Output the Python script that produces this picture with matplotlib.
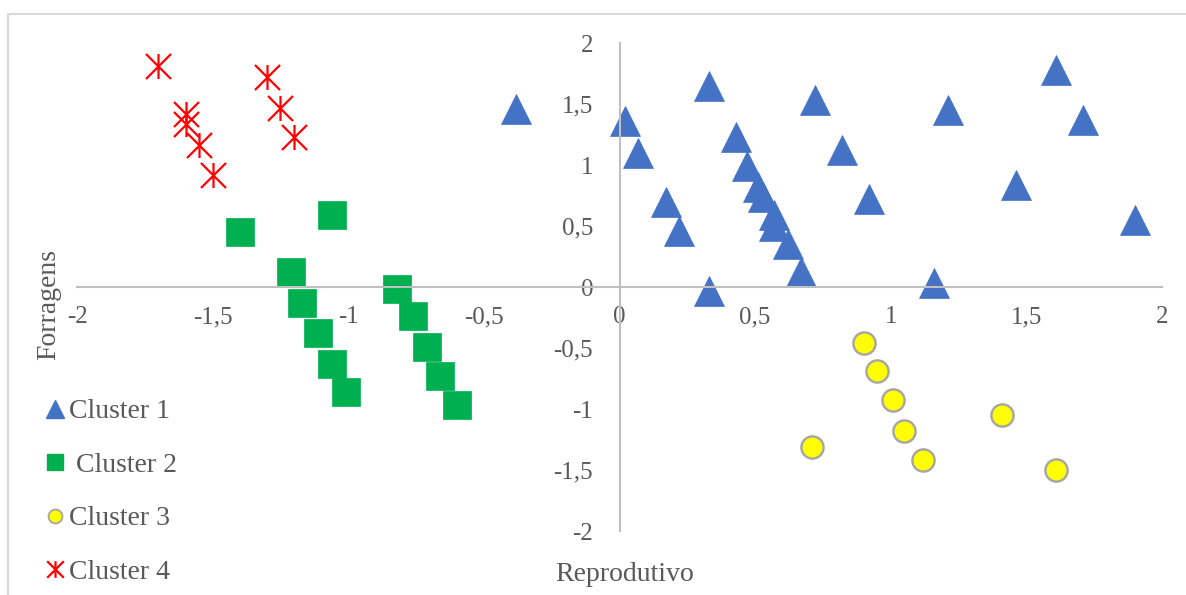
import numpy as np
import matplotlib.pyplot as plt
from matplotlib.path import Path
from matplotlib.lines import Line2D
from matplotlib.patches import Rectangle

plt.rcParams['font.family'] = ['Liberation Serif', 'DejaVu Serif']

# ------------------------------
# Data
# ------------------------------
x_c1 = [-0.38, 0.02, 0.07, 0.33, 0.43, 0.17, 0.22, 0.33, 0.47, 0.51, 0.53, 0.57,
        0.57, 0.62, 0.67, 0.72, 0.82, 0.92, 1.21, 1.61, 1.71, 1.46, 1.90, 1.16]
y_c1 = [1.46, 1.36, 1.10, 1.65, 1.23, 0.70, 0.46, -0.03, 0.99, 0.82, 0.74, 0.59,
        0.50, 0.35, 0.12, 1.53, 1.12, 0.72, 1.45, 1.78, 1.37, 0.84, 0.55, 0.03]

x_c2 = [-1.40, -1.06, -1.21, -1.17, -1.11, -1.06, -1.01, -0.82, -0.76, -0.71, -0.66, -0.60]
y_c2 = [0.45, 0.59, 0.12, -0.13, -0.38, -0.63, -0.86, -0.02, -0.24, -0.49, -0.73, -0.97]

x_c3 = [0.90, 0.95, 1.01, 1.05, 1.12, 0.71, 1.41, 1.61]
y_c3 = [-0.46, -0.69, -0.93, -1.18, -1.42, -1.31, -1.05, -1.50]

x_c4 = [-1.70, -1.30, -1.25, -1.60, -1.60, -1.55, -1.20, -1.50]
y_c4 = [1.81, 1.72, 1.47, 1.42, 1.34, 1.16, 1.23, 0.92]

labels = ['Cluster 1', ' Cluster 2', 'Cluster 3', 'Cluster 4']
ticks = [-2, -1.5, -1, -0.5, 0, 0.5, 1, 1.5, 2]
tick_labels = ['-2', '-1,5', '-1', '-0,5', '0', '0,5', '1', '1,5', '2']

# Excel-style asterisk: vertical bar + X
star = Path([(0, -1), (0, 1), (-1, -1), (1, 1), (-1, 1), (1, -1)],
            [Path.MOVETO, Path.LINETO, Path.MOVETO, Path.LINETO, Path.MOVETO, Path.LINETO])

blue, green, yellow, red = '#4472C4', '#00B050', '#FFFF00', '#FF0000'
txt = '#595959'

# ------------------------------
# Figure
# ------------------------------
fig = plt.figure(figsize=(11.86, 5.95), dpi=100)
ax = fig.add_axes([77 / 1186, 64 / 595, 1085 / 1186, 488 / 595])

ax.plot(x_c1, y_c1, ls='none', marker='^', ms=21, mfc=blue, mec=blue, mew=0.5)
ax.plot(x_c2, y_c2, ls='none', marker='s', ms=19.5, mfc=green, mec=green, mew=0.5)
ax.plot(x_c3, y_c3, ls='none', marker='o', ms=16, mfc=yellow, mec='#A5A5A5', mew=1.7)
ax.plot(x_c4, y_c4, ls='none', marker=star, ms=18, mfc='none', mec=red, mew=1.6)

ax.set_xlim(-2, 2)
ax.set_ylim(-2, 2)
for side in ['top', 'right']:
    ax.spines[side].set_visible(False)
for side in ['left', 'bottom']:
    ax.spines[side].set_position(('data', 0))
    ax.spines[side].set_color('#BFBFBF')
    ax.spines[side].set_linewidth(1.5)

ax.set_xticks(ticks)
ax.set_xticklabels(tick_labels)
ax.set_yticks(ticks)
ax.set_yticklabels(tick_labels)
ax.tick_params(axis='x', length=0, pad=14, labelsize=18, labelcolor=txt)
ax.tick_params(axis='y', length=0, pad=19, labelsize=18, labelcolor=txt)

ax.set_xlabel('Reprodutivo', fontsize=20, color=txt, va='center')
ax.xaxis.set_label_coords(0.505, -0.090)
ax.set_ylabel('Forragens', fontsize=20, color=txt, va='center')
ax.yaxis.set_label_coords(-0.026, 0.465)

handles = [
    Line2D([], [], ls='none', marker='^', ms=13, mfc=blue, mec=blue),
    Line2D([], [], ls='none', marker='s', ms=11, mfc=green, mec=green),
    Line2D([], [], ls='none', marker='o', ms=10, mfc=yellow, mec='#A5A5A5', mew=1.3),
    Line2D([], [], ls='none', marker=star, ms=12, mfc='none', mec=red, mew=1.6),
]
fig.legend(handles, labels, loc='upper left', bbox_to_anchor=(45 / 1186, 0.3296),
           frameon=False, fontsize=20, labelcolor=txt, borderpad=0, borderaxespad=0,
           handlelength=0.75, handletextpad=0.1, labelspacing=1.01)

# light frame around the chart area (cut at right and bottom in the reference)
fig.patches.append(Rectangle((8 / 1186, -0.1), 1.2, (595 - 14) / 595 + 0.1,
                             transform=fig.transFigure, fill=False,
                             edgecolor='#D9D9D9', lw=1.5))

fig.savefig('out.png', dpi=100)
